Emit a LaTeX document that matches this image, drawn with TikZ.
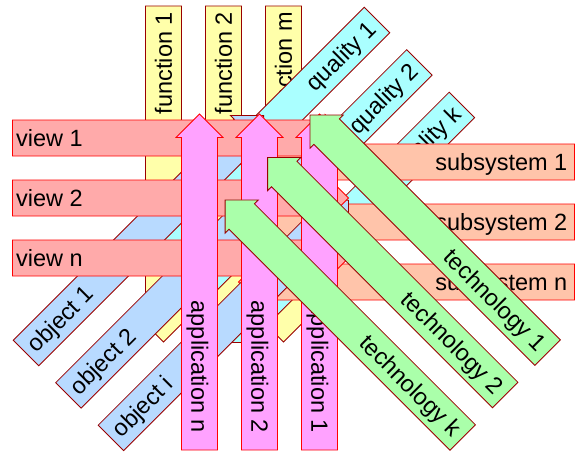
\documentclass[tikz,border=0pt]{standalone}
\usepackage{fontspec}
\setmainfont{Liberation Sans}
\definecolor{funcyellow}{HTML}{FFFFAA}
\definecolor{qualcyan}{HTML}{AAFFFF}
\definecolor{subpeach}{HTML}{FFC4AA}
\definecolor{objblue}{HTML}{B8DAFF}
\definecolor{viewpink}{HTML}{FFAAAA}
\definecolor{appmagenta}{HTML}{FFA2FF}
\definecolor{techgreen}{HTML}{AAFFAA}
\definecolor{darkline}{HTML}{990000}

\begin{document}
\begin{tikzpicture}[x=1pt, y=-1pt, line join=miter]
	\tikzstyle{funcbar}=[draw=darkline, fill=funcyellow, line width=0.8pt]
	\tikzstyle{qualbar}=[draw=darkline, fill=qualcyan, line width=0.8pt]
	\tikzstyle{subbar}=[draw=red, fill=subpeach, line width=0.8pt]
	\tikzstyle{objbar}=[draw=darkline, fill=objblue, line width=0.8pt]
	\tikzstyle{viewbar}=[draw=red, fill=viewpink, line width=0.8pt]
	\tikzstyle{appbar}=[draw=red, fill=appmagenta, line width=0.8pt]
	\tikzstyle{techbar}=[draw=darkline, fill=techgreen, line width=0.8pt]
	\tikzstyle{txt}=[font=\fontsize{23.5}{28}\selectfont, inner sep=3pt, text height=16.5pt, text depth=0pt]

	\useasboundingbox (0,0) rectangle (575,452);

	% functions
	\draw[funcbar] (145.5,6) -- (181.5,6) -- (181.5,318.5) -- (187,318.5) -- (163.5,342) -- (140,318.5) -- (145.5,318.5) -- cycle;
	\draw[funcbar] (205.5,6) -- (241.5,6) -- (241.5,318.5) -- (247,318.5) -- (223.5,342) -- (200,318.5) -- (205.5,318.5) -- cycle;
	\draw[funcbar] (265.5,6) -- (301.5,6) -- (301.5,318.5) -- (307,318.5) -- (283.5,342) -- (260,318.5) -- (265.5,318.5) -- cycle;
	\node[txt, rotate=90, anchor=east] (f1) at (163.5,9) {function 1};
	\node[txt, rotate=90, anchor=east] (f2) at (223.5,9) {function 2};
	\node[txt, rotate=90, anchor=east] (fm) at (283.5,9) {function m};

	% qualities
	\draw[qualbar] (139.4,257.6) -- ++(33.24,0) -- ++(-3.89,-3.89) -- ++(220.97,-220.97) -- ++(-25.46,-25.46) -- ++(-220.97,220.97) -- ++(-3.89,-3.89) -- cycle;
	\draw[qualbar] (181.8,300) -- ++(33.24,0) -- ++(-3.89,-3.89) -- ++(220.97,-220.97) -- ++(-25.46,-25.46) -- ++(-220.97,220.97) -- ++(-3.89,-3.89) -- cycle;
	\draw[qualbar] (224.3,342.5) -- ++(33.24,0) -- ++(-3.89,-3.89) -- ++(220.97,-220.97) -- ++(-25.46,-25.46) -- ++(-220.97,220.97) -- ++(-3.89,-3.89) -- cycle;
	\node[txt, rotate=45, anchor=east] (q1) at (374,23) {quality 1};
	\node[txt, rotate=45, anchor=east] (q2) at (416.4,65.4) {quality 2};
	\node[txt, rotate=45, anchor=east] (qk) at (458.9,107.9) {quality k};

	% subsystems
	\draw[subbar] (574.5,144) -- (262,144) -- (262,138.5) -- (238.5,162) -- (262,185.5) -- (262,180) -- (574.5,180) -- cycle;
	\draw[subbar] (574.5,204) -- (262,204) -- (262,198.5) -- (238.5,222) -- (262,245.5) -- (262,240) -- (574.5,240) -- cycle;
	\draw[subbar] (574.5,264) -- (262,264) -- (262,258.5) -- (238.5,282) -- (262,305.5) -- (262,300) -- (574.5,300) -- cycle;
	\node[txt, anchor=east] (s1) at (570.5,162) {subsystem 1};
	\node[txt, anchor=east] (s2) at (570.5,222) {subsystem 2};
	\node[txt, anchor=east] (sn) at (570.5,282) {subsystem n};

	% objects
	\draw[objbar] (263.6,115.4) -- ++(-33.24,0) -- ++(3.89,3.89) -- ++(-220.97,220.97) -- ++(25.46,25.46) -- ++(220.97,-220.97) -- ++(3.89,3.89) -- cycle;
	\draw[objbar] (306,157.8) -- ++(-33.24,0) -- ++(3.89,3.89) -- ++(-220.97,220.97) -- ++(25.46,25.46) -- ++(220.97,-220.97) -- ++(3.89,3.89) -- cycle;
	\draw[objbar] (348.5,200.3) -- ++(-33.24,0) -- ++(3.89,3.89) -- ++(-220.97,220.97) -- ++(25.46,25.46) -- ++(220.97,-220.97) -- ++(3.89,3.89) -- cycle;
	\node[txt, rotate=45, anchor=west] (o1) at (28.8,350.2) {object 1};
	\node[txt, rotate=45, anchor=west] (o2) at (71.2,392.6) {object 2};
	\node[txt, rotate=45, anchor=west] (oi) at (113.7,435.1) {object i};

	% views
	\draw[viewbar] (12.5,120) -- (325,120) -- (325,114.5) -- (348.5,138) -- (325,161.5) -- (325,156) -- (12.5,156) -- cycle;
	\draw[viewbar] (12.5,180) -- (325,180) -- (325,174.5) -- (348.5,198) -- (325,221.5) -- (325,216) -- (12.5,216) -- cycle;
	\draw[viewbar] (12.5,240) -- (325,240) -- (325,234.5) -- (348.5,258) -- (325,281.5) -- (325,276) -- (12.5,276) -- cycle;
	\node[txt, anchor=west] (v1) at (13,138) {view 1};
	\node[txt, anchor=west] (v2) at (13,198) {view 2};
	\node[txt, anchor=west] (vn) at (13,258) {view n};

	% applications
	\draw[appbar] (199.5,114) -- (223,137.5) -- (217.5,137.5) -- (217.5,450) -- (181.5,450) -- (181.5,137.5) -- (176,137.5) -- cycle;
	\draw[appbar] (259.5,114) -- (283,137.5) -- (277.5,137.5) -- (277.5,450) -- (241.5,450) -- (241.5,137.5) -- (236,137.5) -- cycle;
	\draw[appbar] (319.5,114) -- (343,137.5) -- (337.5,137.5) -- (337.5,450) -- (301.5,450) -- (301.5,137.5) -- (296,137.5) -- cycle;
	\node[txt, rotate=-90, anchor=east] (an) at (199.5,436) {application n};
	\node[txt, rotate=-90, anchor=east] (a2) at (259.5,436) {application 2};
	\node[txt, rotate=-90, anchor=east] (a1) at (319.5,436) {application 1};

	% technologies
	\draw[techbar] (310,115) -- ++(33.24,0) -- ++(-3.89,3.89) -- ++(220.97,220.97) -- ++(-25.46,25.46) -- ++(-220.97,-220.97) -- ++(-3.89,3.89) -- cycle;
	\draw[techbar] (267.6,157.4) -- ++(33.24,0) -- ++(-3.89,3.89) -- ++(220.97,220.97) -- ++(-25.46,25.46) -- ++(-220.97,-220.97) -- ++(-3.89,3.89) -- cycle;
	\draw[techbar] (225.1,199.9) -- ++(33.24,0) -- ++(-3.89,3.89) -- ++(220.97,220.97) -- ++(-25.46,25.46) -- ++(-220.97,-220.97) -- ++(-3.89,3.89) -- cycle;
	\node[txt, rotate=-45, anchor=east] (t1) at (544.6,349.6) {technology 1};
	\node[txt, rotate=-45, anchor=east] (t2) at (502.2,392.0) {technology 2};
	\node[txt, rotate=-45, anchor=east] (tk) at (459.7,434.5) {technology k};
\end{tikzpicture}
\end{document}
